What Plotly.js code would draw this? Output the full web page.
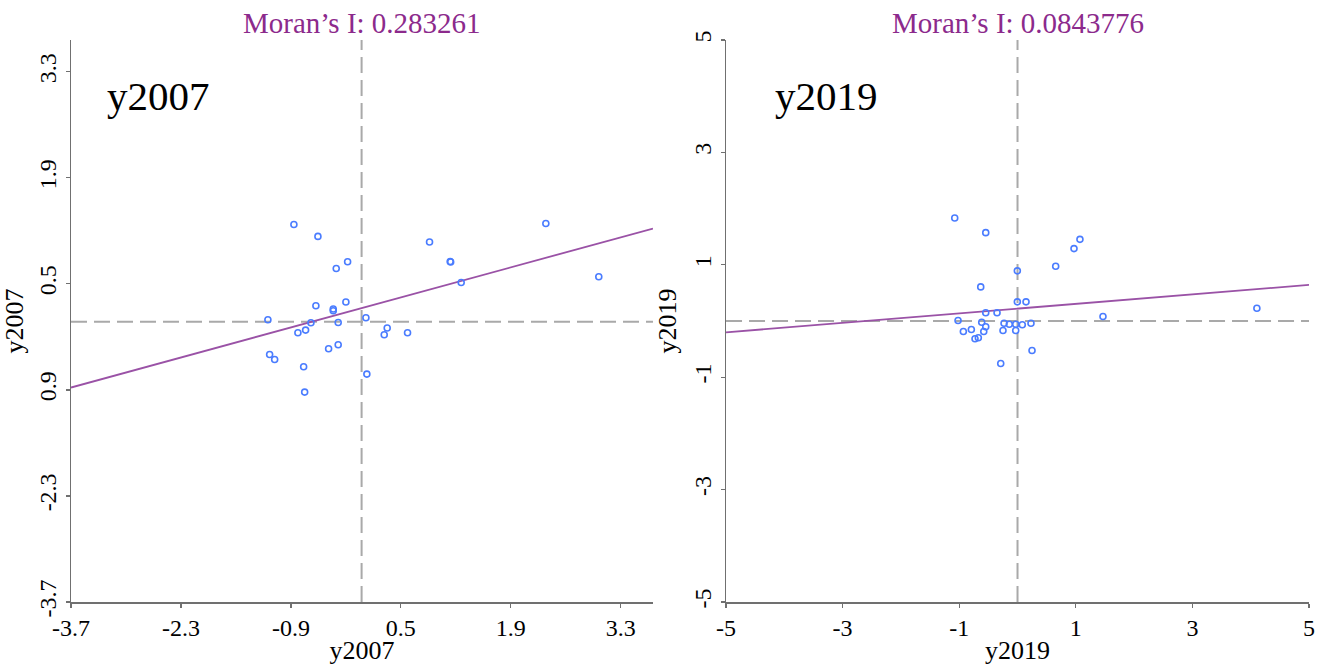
<!DOCTYPE html>
<html>
<head>
<meta charset="utf-8">
<script src="https://cdn.plot.ly/plotly-3.0.1.min.js"></script>
<style>html,body{margin:0;padding:0;background:#fff;}#chart{width:1321px;height:665px;}</style>
</head>
<body>
<div id="chart"></div>
<script>
// ---- data ----
const x2007 = [-0.862,-0.556,-0.178,-0.323,-0.582,-0.200,-0.361,-0.361,-1.193,-0.645,-0.298,0.055,-0.811,-0.713,0.326,0.288,0.585,-0.420,-0.298,-1.171,-1.107,-0.738,0.067,-0.725,0.865,1.128,1.134,1.268,2.346,3.020];
const lag2007 = [1.285,1.127,0.792,0.704,0.211,0.260,0.168,0.145,0.026,-0.013,-0.009,0.053,-0.145,-0.110,-0.083,-0.172,-0.145,-0.357,-0.304,-0.432,-0.498,-0.594,-0.691,-0.929,1.053,0.796,0.789,0.519,1.298,0.594];
const x2019 = [-1.077,-0.545,1.071,0.969,0.655,-0.003,-0.631,-0.003,0.146,-0.545,-0.351,-1.020,-0.614,-0.231,-0.141,-0.031,0.082,0.231,-0.545,-0.929,-0.792,-0.579,-0.249,-0.031,-0.729,-0.672,0.249,-0.288,1.466,4.106];
const lag2019 = [1.833,1.572,1.453,1.288,0.973,0.892,0.607,0.341,0.341,0.146,0.146,0.009,-0.021,-0.039,-0.057,-0.057,-0.067,-0.039,-0.103,-0.186,-0.151,-0.186,-0.169,-0.169,-0.316,-0.298,-0.524,-0.755,0.080,0.227];
const moran2007 = 0.283261, intercept2007 = 0.18;
const moran2019 = 0.0843776, intercept2019 = 0.22;
const range2007 = [-3.7, 3.71];
const range2019 = [-5, 5];
const ticks2007 = [-3.7,-2.3,-0.9,0.5,1.9,3.3];
const xTickText2007 = ['-3.7','-2.3','-0.9','0.5','1.9','3.3'];
const yTickText2007 = ['-3.7','-2.3','0.9','0.5','1.9','3.3'];
const ticks2019 = [-5,-3,-1,1,3,5];
const tickText2019 = ['-5','-3','-1','1','3','5'];

// ---- styles ----
const FONT = 'Liberation Serif, Times New Roman, serif';
const PURPLE_T = '#8c2a8c';
const PURPLE_L = '#9a52a6';
const BLUE = '#4a7cff';
const DASH = '#a9a9a9';

function fitLine(r, slope, b){ return {x: r.slice(), y: r.map(v => b + slope*v)}; }
const l07 = fitLine(range2007, moran2007, intercept2007);
const l19 = fitLine(range2019, moran2019, intercept2019);

const marker = {symbol:'circle-open', size:6, color:BLUE, line:{width:1.6, color:BLUE}};
const traces = [
  {x:l07.x, y:l07.y, mode:'lines', line:{color:PURPLE_L, width:1.8}, xaxis:'x', yaxis:'y', hoverinfo:'skip'},
  {x:x2007, y:lag2007, mode:'markers', marker:marker, xaxis:'x', yaxis:'y'},
  {x:l19.x, y:l19.y, mode:'lines', line:{color:PURPLE_L, width:1.8}, xaxis:'x2', yaxis:'y2', hoverinfo:'skip'},
  {x:x2019, y:lag2019, mode:'markers', marker:marker, xaxis:'x2', yaxis:'y2'}
];

const axBase = {
  showgrid:false, zeroline:false, showline:true, linecolor:'#707070', linewidth:1.5,
  ticks:'outside', ticklen:4, tickcolor:'#707070', tickwidth:1.2,
  tickfont:{family:FONT, size:24, color:'#000'}, tickmode:'array', automargin:false
};
function ax(extra){ return Object.assign({}, axBase, extra); }
const TITLEFONT = {family:FONT, size:26, color:'#000'};

const layout = {
  width:1321, height:665,
  margin:{l:71, r:12, t:40, b:63},
  paper_bgcolor:'#fff', plot_bgcolor:'#fff',
  showlegend:false,
  font:{family:FONT, color:'#000'},
  xaxis: ax({domain:[0,0.4701], range:range2007, tickvals:ticks2007, ticktext:xTickText2007, anchor:'y',
    title:{text:'y2007', font:TITLEFONT, standoff:0}}),
  yaxis: ax({domain:[0,1], range:[-3.7,3.72], tickvals:ticks2007, ticktext:yTickText2007, tickangle:-90, anchor:'x',
    title:{text:'y2007', font:TITLEFONT, standoff:6}}),
  xaxis2: ax({domain:[0.5291,1], range:range2019, tickvals:ticks2019, ticktext:tickText2019, anchor:'y2',
    title:{text:'y2019', font:TITLEFONT, standoff:0}}),
  yaxis2: ax({domain:[0,1], range:range2019, tickvals:ticks2019, ticktext:tickText2019, tickangle:-90, anchor:'x2',
    title:{text:'y2019', font:TITLEFONT, standoff:6}}),
  shapes:[
    {type:'line', xref:'x', yref:'y domain', x0:0, x1:0, y0:0, y1:1, layer:'below', line:{color:DASH, width:2, dash:'16px,7px'}},
    {type:'line', xref:'x domain', yref:'y', x0:0, x1:1, y0:0, y1:0, layer:'below', line:{color:DASH, width:2, dash:'16px,7px'}},
    {type:'line', xref:'x2', yref:'y2 domain', x0:0, x1:0, y0:0, y1:1, layer:'below', line:{color:DASH, width:2, dash:'16px,7px'}},
    {type:'line', xref:'x2 domain', yref:'y2', x0:0, x1:1, y0:0, y1:0, layer:'below', line:{color:DASH, width:2, dash:'16px,7px'}}
  ],
  annotations:[
    {xref:'x domain', yref:'paper', x:0.5, y:1, xanchor:'center', yanchor:'bottom', yshift:-1, showarrow:false,
     text:'Moran’s I: ' + moran2007, font:{family:FONT, size:29, color:PURPLE_T}},
    {xref:'x2 domain', yref:'paper', x:0.5, y:1, xanchor:'center', yanchor:'bottom', yshift:-1, showarrow:false,
     text:'Moran’s I: ' + moran2019, font:{family:FONT, size:29, color:PURPLE_T}},
    {xref:'x domain', yref:'y domain', x:0.058, y:0.9, xanchor:'left', yanchor:'middle', showarrow:false,
     text:'y2007', font:{family:FONT, size:41, color:'#000'}},
    {xref:'x2 domain', yref:'y2 domain', x:0.081, y:0.9, xanchor:'left', yanchor:'middle', showarrow:false,
     text:'y2019', font:{family:FONT, size:41, color:'#000'}}
  ]
};

Plotly.newPlot('chart', traces, layout, {displayModeBar:false, staticPlot:true});
</script>
</body>
</html>
